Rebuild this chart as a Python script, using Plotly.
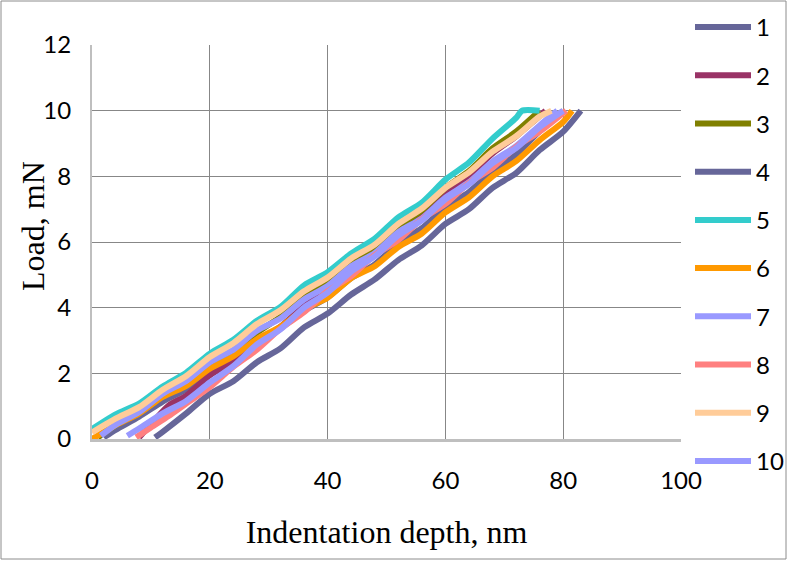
import plotly.graph_objects as go

# ---- data ----
names = ["1", "2", "3", "4", "5", "6", "7", "8", "9", "10"]

d1 = [2, 4, 8, 12, 16, 20, 24, 28, 32, 36, 40, 44, 48, 52, 56, 60, 64, 68, 72, 76, 80]
l1 = [0.05, 0.28, 0.68, 1.14, 1.52, 2.04, 2.42, 2.95, 3.37, 3.9, 4.32, 4.9, 5.32, 5.95, 6.42, 7.05, 7.52, 8.15, 8.66, 9.38, 10.0]

d2 = [8, 10, 13, 16, 20, 24, 28, 32, 36, 40, 44, 48, 52, 56, 60, 64, 68, 72, 75, 77]
l2 = [0.05, 0.45, 1.02, 1.32, 1.94, 2.37, 2.95, 3.42, 4.05, 4.56, 5.2, 5.66, 6.35, 6.82, 7.5, 8.02, 8.7, 9.22, 9.68, 10.0]

d3 = [1, 4, 8, 12, 16, 20, 24, 28, 32, 36, 40, 44, 48, 52, 56, 60, 64, 68, 72, 76]
l3 = [0.05, 0.42, 0.83, 1.33, 1.72, 2.24, 2.67, 3.24, 3.72, 4.3, 4.76, 5.35, 5.82, 6.45, 6.96, 7.65, 8.16, 8.85, 9.36, 10.0]

d4 = [10.7, 12, 16, 20, 24, 28, 32, 36, 40, 44, 48, 52, 56, 60, 64, 68, 72, 76, 80, 83]
l4 = [0.05, 0.22, 0.78, 1.38, 1.76, 2.34, 2.76, 3.4, 3.82, 4.4, 4.86, 5.45, 5.9, 6.55, 7.0, 7.65, 8.1, 8.8, 9.36, 10.0]

d5 = [0, 4, 8, 12, 16, 20, 24, 28, 32, 36, 40, 44, 48, 52, 56, 60, 64, 68, 72, 73, 76]
l5 = [0.3, 0.75, 1.08, 1.6, 2.02, 2.6, 3.02, 3.6, 4.02, 4.68, 5.08, 5.65, 6.1, 6.75, 7.2, 7.9, 8.42, 9.15, 9.78, 10.0, 10.0]

d6 = [0, 4, 8, 12, 16, 20, 24, 28, 32, 36, 40, 44, 48, 52, 56, 60, 64, 68, 72, 76, 80, 81.5]
l6 = [0.0, 0.42, 0.78, 1.28, 1.62, 2.14, 2.52, 3.04, 3.42, 3.95, 4.3, 4.9, 5.26, 5.85, 6.26, 6.9, 7.36, 8.0, 8.46, 9.1, 9.66, 10.0]

d7 = [1.5, 4, 8, 12, 16, 20, 24, 28, 32, 36, 40, 44, 48, 52, 56, 60, 64, 68, 72, 76, 79]
l7 = [0.1, 0.43, 0.82, 1.38, 1.77, 2.34, 2.72, 3.3, 3.67, 4.25, 4.66, 5.26, 5.66, 6.3, 6.72, 7.35, 7.82, 8.45, 8.92, 9.55, 10.0]

d8 = [7.5, 10, 13, 16, 20, 24, 28, 32, 36, 40, 44, 48, 52, 56, 60, 64, 68, 72, 76, 80.5]
l8 = [0.05, 0.35, 0.7, 1.08, 1.58, 2.2, 2.72, 3.36, 3.86, 4.5, 4.96, 5.6, 6.06, 6.7, 7.16, 7.8, 8.26, 8.9, 9.36, 10.0]

d9 = [0, 4, 8, 12, 16, 20, 24, 28, 32, 36, 40, 44, 48, 52, 56, 60, 64, 68, 72, 76, 78]
l9 = [0.2, 0.62, 0.97, 1.5, 1.92, 2.5, 2.92, 3.5, 3.92, 4.5, 4.92, 5.5, 5.92, 6.55, 7.02, 7.65, 8.12, 8.75, 9.22, 9.82, 10.0]

d10 = [6, 8, 12, 16, 20, 24, 28, 32, 36, 40, 44, 48, 52, 56, 60, 64, 68, 72, 76, 80]
l10 = [0.1, 0.32, 0.78, 1.16, 1.72, 2.22, 2.88, 3.34, 4.0, 4.46, 5.1, 5.56, 6.2, 6.66, 7.3, 7.76, 8.4, 8.86, 9.5, 10.0]

x_ticks = [0, 20, 40, 60, 80, 100]
y_ticks = [0, 2, 4, 6, 8, 10, 12]

colors = ["#666699", "#993366", "#808000", "#666699", "#33CCCC",
          "#FF9900", "#9999FF", "#FF8080", "#FFCC99", "#9999FF"]

depths = [d1, d2, d3, d4, d5, d6, d7, d8, d9, d10]
loads = [l1, l2, l3, l4, l5, l6, l7, l8, l9, l10]

# ---- figure ----
W, H = 788, 561
ML, MR, MT, MB = 92, 107, 45, 122
pw, ph = W - ML - MR, H - MT - MB

fig = go.Figure()
for name, xs, ys, c in zip(names, depths, loads, colors):
    fig.add_trace(go.Scatter(
        x=xs, y=ys, name=name, mode="lines",
        line=dict(color=c, width=6, shape="spline", smoothing=0.7),
        legendgroup=name,
    ))

grid_c = "#878787"
axis_c = "#BFBFBF"
tick_font = dict(family="Lato, Carlito, sans-serif", size=24, color="#000000")
title_font = dict(family="Liberation Serif, Times New Roman, serif", size=32, color="#000000")

fig.update_layout(
    width=W, height=H,
    margin=dict(l=ML, r=MR, t=MT, b=MB, autoexpand=False),
    paper_bgcolor="white", plot_bgcolor="white",
    showlegend=True,
    legend=dict(
        x=1 + (690 - (W - MR)) / pw, xanchor="left",
        y=1 + (MT - 5) / ph, yanchor="top",
        font=dict(family="Lato, Carlito, sans-serif", size=24, color="#000000"),
        tracegroupgap=14, itemwidth=56, maxheight=560,
        bgcolor="rgba(0,0,0,0)",
    ),
    xaxis=dict(
        range=[0, 100], tickvals=x_ticks, showgrid=True, gridcolor=grid_c, gridwidth=1,
        showline=True, linecolor=axis_c, linewidth=3, zeroline=False, ticks="",
        tickfont=tick_font, ticklabelstandoff=18,
        title=dict(text="Indentation depth, nm", font=title_font, standoff=28),
    ),
    yaxis=dict(
        range=[0, 12], tickvals=y_ticks, showgrid=True, gridcolor=grid_c, gridwidth=1,
        showline=True, linecolor=axis_c, linewidth=2, zeroline=False, ticks="",
        tickfont=tick_font, ticklabelstandoff=14,
    ),
    annotations=[dict(
        text="Load, mN", textangle=-90, showarrow=False,
        xref="paper", yref="paper", x=-(ML - 33) / pw, y=(439 - 226) / ph,
        xanchor="center", yanchor="middle", font=title_font,
    )],
)

# outer chart border
fig.add_shape(
    type="rect", xref="paper", yref="paper",
    x0=-(ML - 1) / pw, x1=1 + (MR - 2) / pw,
    y0=-(MB - 2) / ph, y1=1 + (MT - 1) / ph,
    line=dict(color="#8C8C8C", width=1), layer="below",
)

fig.write_html("out.html", config={"displayModeBar": False},
               post_script="document.body.style.margin='0px';")
